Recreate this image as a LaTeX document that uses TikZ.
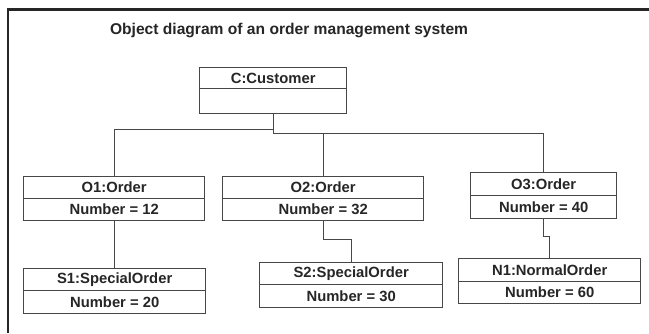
\documentclass[tikz,border=0pt]{standalone}
\usepackage{fontspec}
\setmainfont{Liberation Sans}
\begin{document}
\begin{tikzpicture}[x=1pt,y=-1pt,
  line width=1.4pt,
  ink/.style={draw=black!72},
  part/.style={ink, rectangle, anchor=north west, inner sep=0pt,
    font=\bfseries\fontsize{14.8}{16}\selectfont, text=black!85},
  link/.style={ink, line width=1.3pt}]
\useasboundingbox (0,0) rectangle (649,333);
\fill[white] (0,0) rectangle (649,333);

% frame edges
\draw[black!85, line width=3pt] (8,9.5) -- (649,9.5);
\draw[black!85, line width=1.6pt] (8,8) -- (8,333);

% title
\node[anchor=west, font=\bfseries\fontsize{15.6}{17}\selectfont, text=black!85]
  (title) at (106,30) {Object diagram of an order management system};

% object boxes: name compartment and value compartment
\node[part, minimum width=147, minimum height=21] (C)  at (199,67) {C:Customer};
\node[part, minimum width=147, minimum height=25] (Cv) at (199,88) {};

\node[part, minimum width=181, minimum height=22] (O1)  at (23,176) {O1:Order};
\node[part, minimum width=181, minimum height=22] (O1v) at (23,198) {Number = 12};

\node[part, minimum width=201, minimum height=22] (O2)  at (222,176) {O2:Order};
\node[part, minimum width=201, minimum height=22] (O2v) at (222,198) {Number = 32};

\node[part, minimum width=146, minimum height=23] (O3)  at (470,172) {O3:Order};
\node[part, minimum width=146, minimum height=23] (O3v) at (470,195) {Number = 40};

\node[part, minimum width=182, minimum height=22] (S1)  at (23,268) {S1:SpecialOrder};
\node[part, minimum width=182, minimum height=23] (S1v) at (23,290) {Number = 20};

\node[part, minimum width=183, minimum height=22] (S2)  at (259,262) {S2:SpecialOrder};
\node[part, minimum width=183, minimum height=23] (S2v) at (259,284) {Number = 30};

\node[part, minimum width=182, minimum height=23] (N1)  at (458,258) {N1:NormalOrder};
\node[part, minimum width=182, minimum height=22] (N1v) at (458,281) {Number = 60};

% links
\draw[link] (Cv.south) -- ++(0,15) -| (O1.north);
\draw[link] (Cv.south) -- ++(0,19) -| (O2.north);
\draw[link] (Cv.south) ++(0,19) -| (O3.north);
\draw[link] (O1v.south) -- (O1v.south |- S1.north);
\draw[link] (O2v.south) -- ++(0,18) -| (S2.north);
\draw[link] (O3v.south) -- ++(0,17) -| (N1.north);
\end{tikzpicture}
\end{document}
